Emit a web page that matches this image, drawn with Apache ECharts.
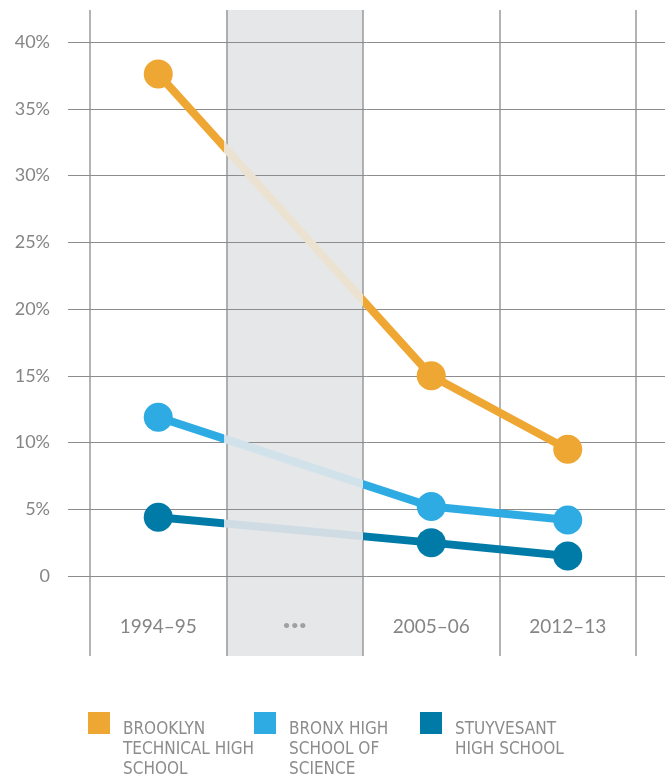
<!DOCTYPE html>
<html>
<head>
<meta charset="utf-8">
<script src="https://cdn.jsdelivr.net/npm/echarts@6/dist/echarts.min.js"></script>
<style>
    html, body { margin: 0; padding: 0; background: #fff; }
    #chart { width: 665px; height: 774px; }
</style>
</head>
<body>
<div id="chart"></div>
<script>
'use strict';

// data
var categories = ['1994–95', '•••', '2005–06', '2012–13'];
var seriesNames = ['BROOKLYN\nTECHNICAL HIGH\nSCHOOL', 'BRONX HIGH\nSCHOOL OF\nSCIENCE', 'STUYVESANT\nHIGH SCHOOL'];
var brooklynTech = [37.6, null, 15.0, 9.5];
var bronxScience = [11.9, null, 5.2, 4.2];
var stuyvesant = [4.4, null, 2.5, 1.5];
var yTicks = [0, 40, 5];

// look
var colors = ['#efa733', '#2eabe2', '#007ba7'];
var fadedColors = ['#ece2d1', '#d1e2eb', '#cfdce3'];
var gapIndex = 1;
var labelColor = '#858585';
var labelFont = 'Lato, "Open Sans", sans-serif';
var legendFont = '"Liberation Sans Narrow", "DejaVu Sans Condensed", sans-serif';
var legendLineH = 20;

// layout (pixels)
var plotTop = 42, plotBottom = 576, bandTop = 10, bandBottom = 656;
var chartH = 774, chartW = 665;

var pxPerUnit = (plotBottom - plotTop) / (yTicks[1] - yTicks[0]);
var y2Min = yTicks[0] - (bandBottom - plotBottom) / pxPerUnit;
var y2Max = yTicks[1] + (plotTop - bandTop) / pxPerUnit;

// fade the part of the line that crosses the "..." column
function gapGradient(values, i) {
    var first = -1, last = -1;
    values.forEach(function (v, k) {
        if (v != null) {
            if (first < 0) { first = k; }
            last = k;
        }
    });
    var span = last - first;
    var f1 = (gapIndex - (first + 0.5)) / span;
    var f2 = (gapIndex + 1 - (first + 0.5)) / span;
    return new echarts.graphic.LinearGradient(0, 0, 1, 0, [
        { offset: 0, color: colors[i] },
        { offset: f1, color: colors[i] },
        { offset: f1, color: fadedColors[i] },
        { offset: f2, color: fadedColors[i] },
        { offset: f2, color: colors[i] },
        { offset: 1, color: colors[i] }
    ]);
}

var allValues = [brooklynTech, bronxScience, stuyvesant];

var series = allValues.map(function (values, i) {
    return {
        type: 'line',
        name: seriesNames[i],
        xAxisIndex: 1,
        yAxisIndex: 1,
        data: values,
        connectNulls: true,
        symbol: 'circle',
        symbolSize: 29,
        showAllSymbol: true,
        itemStyle: { color: colors[i] },
        lineStyle: { width: 8, color: gapGradient(values, i) },
        z: 3 + i
    };
});

// square swatch sits at the top of a box as tall as the text block
var legendLefts = [88, 254, 420];
var legends = seriesNames.map(function (name, i) {
    var h = name.split('\n').length * legendLineH + 15;
    return {
        data: [name],
        left: legendLefts[i],
        top: 712,
        padding: 0,
        icon: 'path://M0 0h22v22h-22zM30 ' + h,
        itemWidth: 30,
        itemHeight: h,
        selectedMode: false,
        textStyle: {
            color: '#8c8c8c',
            fontFamily: legendFont,
            fontSize: 17,
            lineHeight: legendLineH
        }
    };
});

var splitColors = categories.map(function (c, k) {
    return k === gapIndex ? '#e6e7e9' : 'rgba(0,0,0,0)';
});

var chart = echarts.init(document.getElementById('chart'));
chart.setOption({
    animation: false,
    backgroundColor: '#fff',
    legend: legends,
    grid: [
        { left: 68, right: 0, top: plotTop, bottom: chartH - plotBottom },
        { left: 90, right: chartW - 636, top: bandTop, bottom: chartH - bandBottom }
    ],
    xAxis: [
        { type: 'value', gridIndex: 0, show: false, min: 0, max: 1 },
        {
            type: 'category',
            gridIndex: 1,
            data: categories,
            boundaryGap: true,
            axisLine: { show: false },
            axisTick: { show: false },
            axisLabel: {
                inside: true,
                margin: 20,
                color: labelColor,
                fontFamily: labelFont,
                fontSize: 19,
                formatter: function (v, k) {
                    return k === gapIndex ? '{dot|' + v + '}' : v;
                },
                rich: {
                    dot: { fontSize: 14, color: '#a0a0a0', fontFamily: labelFont, padding: [0, 0, 4, 0] }
                }
            },
            splitLine: { show: true, interval: 0, lineStyle: { color: '#9a9a9a', width: 1.5 } },
            splitArea: { show: true, interval: 0, areaStyle: { color: splitColors } }
        }
    ],
    yAxis: [
        {
            type: 'value',
            gridIndex: 0,
            min: yTicks[0],
            max: yTicks[1],
            interval: yTicks[2],
            z: 1,
            axisLine: { show: false },
            axisTick: { show: false },
            axisLabel: {
                margin: 18,
                color: labelColor,
                fontFamily: labelFont,
                fontSize: 18,
                formatter: function (v) { return v === 0 ? '0' : v + '%'; }
            },
            splitLine: { lineStyle: { color: '#8c8c8c', width: 1 } }
        },
        { type: 'value', gridIndex: 1, show: false, min: y2Min, max: y2Max }
    ],
    series: series
});
</script>
</body>
</html>
